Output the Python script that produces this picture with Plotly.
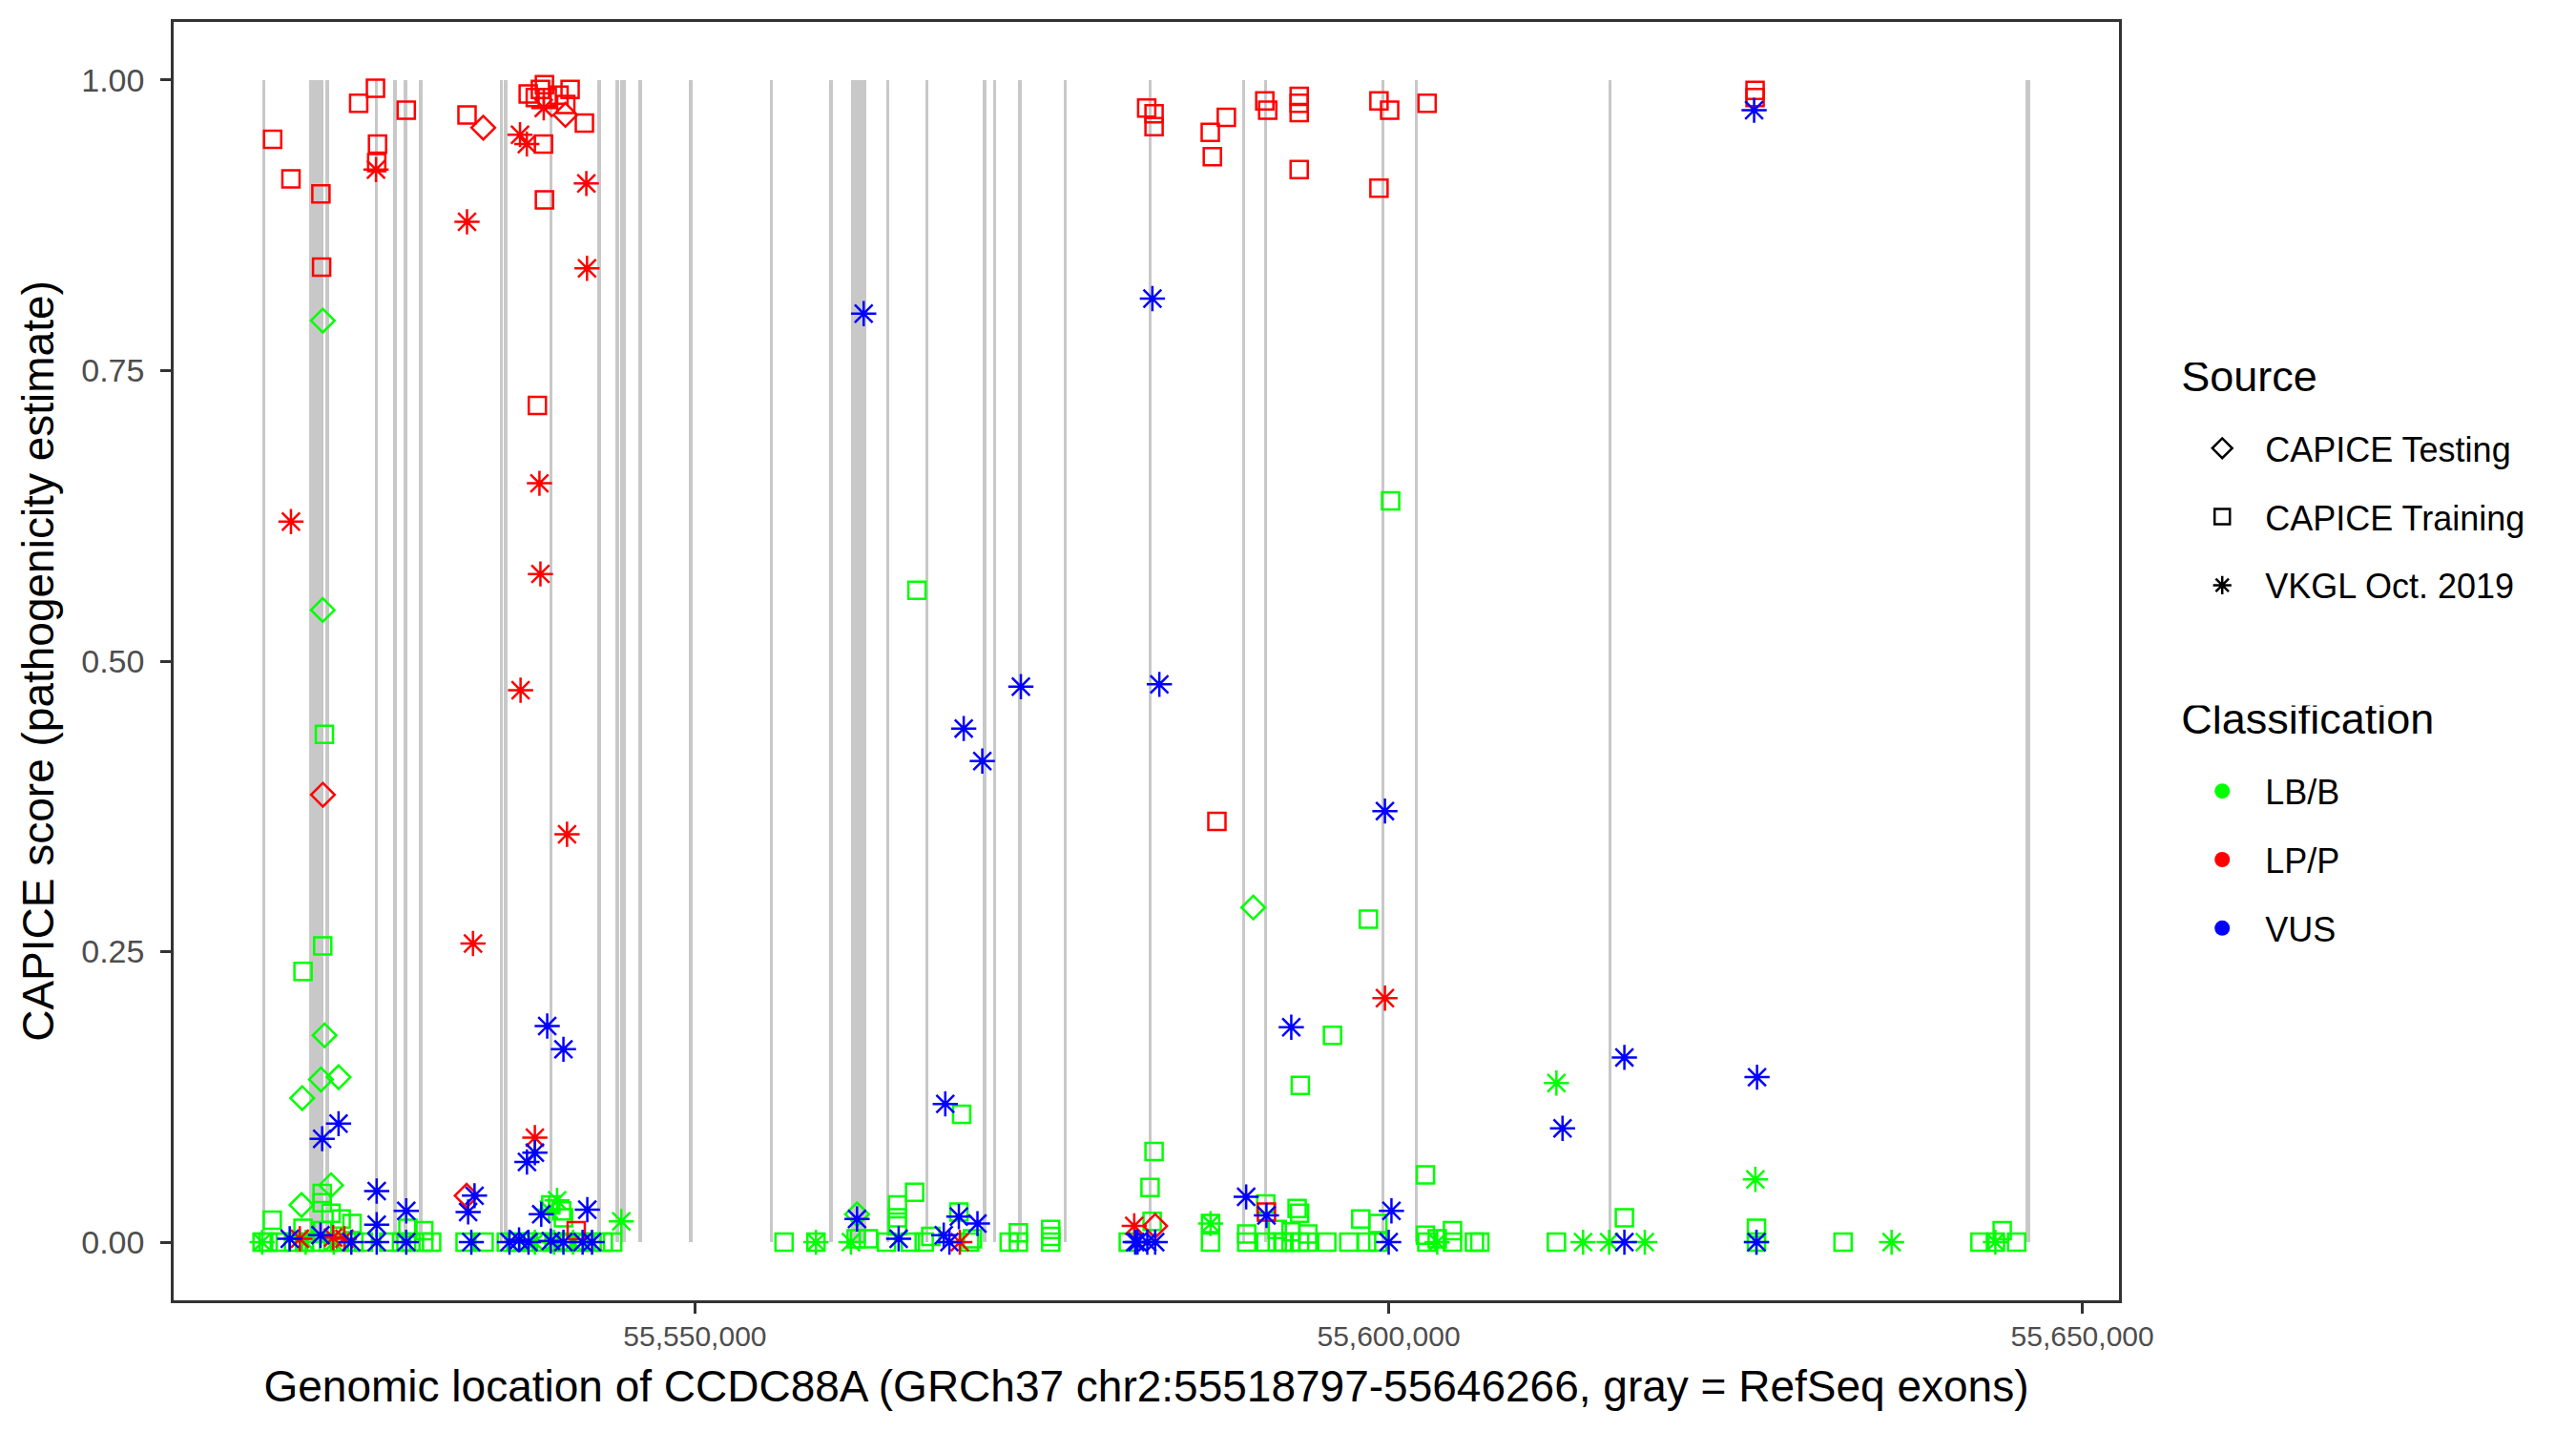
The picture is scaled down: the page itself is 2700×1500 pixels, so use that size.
import plotly.graph_objects as go

# RefSeq exons of CCDC88A (GRCh37, chr2)
exon_start = [55518797, 55522190, 55523380, 55526900, 55528255, 55529010, 55530115, 55535935,
              55536235, 55539485, 55542985, 55544275, 55544640, 55545935, 55549590, 55555380,
              55559685, 55561230, 55563785, 55566605, 55570765, 55571485, 55573315, 55576585,
              55582695, 55589415, 55591005, 55599470, 55601860, 55615830, 55645880]
exon_end = [55519010, 55523200, 55523600, 55527125, 55528485, 55529240, 55530345, 55536165,
            55536465, 55539715, 55543215, 55544505, 55544990, 55546165, 55549820, 55555610,
            55559915, 55562380, 55564015, 55566835, 55570995, 55571715, 55573545, 55576815,
            55582925, 55589645, 55591235, 55599700, 55602090, 55616060, 55646266]

# CAPICE Testing
testing_lbb_pos = [55523170, 55523170, 55523300, 55521690, 55523040, 55524310, 55523770,
                   55521640, 55561680, 55590240]
testing_lbb_score = [0.793, 0.544, 0.178, 0.124, 0.140, 0.142, 0.049, 0.032, 0.024, 0.288]
testing_lpp_pos = [55534740, 55540660, 55523180, 55533540, 55583170]
testing_lpp_score = [0.959, 0.970, 0.385, 0.040, 0.014]

# CAPICE Training
training_lbb_pos = [55518800, 55519230, 55520140, 55521070, 55521860, 55522670, 55523580,
                    55524380, 55525410, 55526100, 55527930, 55528850, 55529530, 55530450,
                    55531020, 55533430, 55534800, 55536400, 55537090, 55538000, 55538920,
                    55539840, 55540750, 55541670, 55542580, 55543390, 55544070, 55519530,
                    55523130, 55523130, 55523770, 55524500, 55525280, 55521750, 55523170,
                    55530450, 55529310, 55523290, 55521750, 55523170, 55539610, 55540390,
                    55540520, 55556420, 55558720, 55561620, 55562500, 55564600, 55565830,
                    55564600, 55564600, 55563800, 55565520, 55566520, 55567000, 55566000,
                    55569220, 55569020, 55570000, 55569800, 55572650, 55573310, 55573310,
                    55575640, 55575640, 55575640, 55581230, 55582950, 55583090, 55582800,
                    55587160, 55587160, 55593630, 55591140, 55593400, 55593580, 55589770,
                    55591140, 55591970, 55592450, 55592960, 55593580, 55594170, 55595540,
                    55589770, 55591970, 55592960, 55594170, 55597990, 55599220, 55597130,
                    55598410, 55599220, 55602650, 55602650, 55602750, 55603500, 55604600,
                    55604600, 55606180, 55606570, 55612090, 55616990, 55626510, 55626510,
                    55632750, 55642620, 55643730, 55644220, 55645260, 55600140, 55598540,
                    55595950]
training_lbb_score = [0, 0, 0, 0, 0, 0, 0,
                      0, 0, 0, 0, 0, 0, 0,
                      0, 0, 0, 0, 0, 0, 0,
                      0, 0, 0, 0, 0, 0, 0.019,
                      0.042, 0.034, 0.025, 0.020, 0.016, 0.012, 0.010,
                      0.010, 0.012, 0.437, 0.233, 0.255, 0.032, 0.027,
                      0.021, 0, 0, 0.003, 0.003, 0.032, 0.043,
                      0.021, 0.014, 0, 0, 0, 0.005, 0.561,
                      0.110, 0.026, 0.003, 0, 0, 0.008, 0,
                      0.011, 0.005, 0, 0, 0.018, 0.078, 0.047,
                      0.016, 0, 0.135, 0.033, 0.029, 0.025, 0,
                      0, 0, 0, 0, 0, 0, 0,
                      0.007, 0.011, 0.009, 0.007, 0.020, 0.016, 0,
                      0, 0, 0.058, 0.006, 0, 0.003, 0.010,
                      0, 0, 0, 0, 0.021, 0.012, 0,
                      0, 0, 0, 0.010, 0, 0.638, 0.278,
                      0.178]
training_lpp_pos = [55519560, 55520880, 55523040, 55523090, 55525760, 55526970, 55527120,
                    55527060, 55529190, 55533570, 55539080, 55539150, 55538640, 55542030,
                    55537980, 55538490, 55538860, 55539150, 55539350, 55540200, 55541000,
                    55540690, 55541440, 55591190, 55582560, 55583090, 55583090, 55588300,
                    55587140, 55587290, 55591070, 55591280, 55593550, 55593550, 55593550,
                    55593550, 55599300, 55600070, 55602770, 55599300, 55626410, 55626410,
                    55587620]
training_lpp_score = [0.949, 0.915, 0.902, 0.839, 0.980, 0.993, 0.945,
                      0.929, 0.974, 0.970, 0.945, 0.897, 0.720, 0.963,
                      0.988, 0.985, 0.992, 0.996, 0.985, 0.987, 0.992,
                      0.979, 0.010, 0.026, 0.976, 0.971, 0.960, 0.968,
                      0.955, 0.934, 0.982, 0.974, 0.986, 0.980, 0.972,
                      0.923, 0.982, 0.974, 0.980, 0.907, 0.991, 0.985,
                      0.362]

# VKGL Oct. 2019
vkgl_lbb_pos = [55518800, 55521940, 55523960, 55540060, 55539470, 55544690, 55561240,
                55558720, 55587160, 55612090, 55614010, 55615890, 55618460, 55626430,
                55626510, 55636250, 55643730, 55538460, 55539840, 55541210, 55603500]
vkgl_lbb_score = [0, 0, 0, 0.036, 0.028, 0.018, 0,
                  0, 0.016, 0.137, 0, 0, 0, 0.054,
                  0, 0, 0, 0, 0, 0, 0]
vkgl_lpp_pos = [55527010, 55537390, 55537880, 55539100, 55533570, 55542170, 55542220,
                55520880, 55538790, 55538860, 55537430, 55534000, 55540780, 55538460,
                55521520, 55523920, 55524730, 55569090, 55581660, 55599730]
vkgl_lpp_score = [0.923, 0.953, 0.945, 0.976, 0.878, 0.911, 0.838,
                  0.620, 0.653, 0.575, 0.475, 0.257, 0.351, 0.090,
                  0.003, 0.004, 0.003, 0, 0.014, 0.210]
vkgl_vus_pos = [55523130, 55524310, 55527060, 55527060, 55529190, 55534110, 55533650,
                55537890, 55538460, 55540520, 55539350, 55542240, 55538920, 55520790,
                55523010, 55525230, 55527060, 55529190, 55533880, 55536630, 55537320,
                55538000, 55539610, 55540520, 55541900, 55542580, 55562160, 55569370,
                55570710, 55573490, 55561680, 55564680, 55568040, 55569020, 55570360,
                55567930, 55568340, 55581730, 55581900, 55582600, 55583170, 55582970,
                55583470, 55589730, 55591190, 55592980, 55599730, 55600200, 55600000,
                55612530, 55616990, 55616990, 55626340, 55626550, 55626510]
vkgl_vus_score = [0.089, 0.102, 0.044, 0.015, 0.027, 0.040, 0.026,
                  0.069, 0.077, 0.166, 0.186, 0.028, 0.024, 0.003,
                  0.006, 0, 0, 0, 0, 0, 0.002,
                  0, 0.001, 0, 0, 0, 0.799, 0.442,
                  0.414, 0.478, 0.020, 0.003, 0.119, 0.022, 0.016,
                  0.006, 0, 0, 0, 0, 0, 0.812,
                  0.480, 0.039, 0.023, 0.185, 0.371, 0.027, 0,
                  0.098, 0.159, 0, 0.974, 0.142, 0]

x_tick_values = [55550000, 55600000, 55650000]
y_tick_values = [0, 0.25, 0.5, 0.75, 1.0]

source_names = ['CAPICE Testing', 'CAPICE Training', 'VKGL Oct. 2019']
class_names = ['LB/B', 'LP/P', 'VUS']

GREEN = '#00FF00'
RED = '#FF0000'
BLUE = '#0000FF'
EXON_GRAY = '#C8C8C8'
AXIS_COL = '#333333'
FONT = 'Liberation Sans, Arial, Helvetica, sans-serif'

SYMBOLS = {'CAPICE Testing': ('diamond-open', 19),
           'CAPICE Training': ('square-open', 18),
           'VKGL Oct. 2019': ('asterisk-open', 22)}

fig = go.Figure()

# exons as gray bars spanning the score range 0..1
fig.add_trace(go.Bar(x=[(s + e) / 2 for s, e in zip(exon_start, exon_end)],
                     y=[1] * len(exon_start),
                     width=[e - s for s, e in zip(exon_start, exon_end)],
                     base=0, marker=dict(color=EXON_GRAY, line=dict(width=0)),
                     showlegend=False, hoverinfo='skip'))


def add_points(pos, score, source, color):
    symbol, size = SYMBOLS[source]
    fig.add_trace(go.Scatter(x=pos, y=score, mode='markers', showlegend=False,
                             marker=dict(symbol=symbol, size=size, color=color,
                                         line=dict(color=color, width=2.5))))


add_points(training_lbb_pos, training_lbb_score, 'CAPICE Training', GREEN)
add_points(testing_lbb_pos, testing_lbb_score, 'CAPICE Testing', GREEN)
add_points(vkgl_lbb_pos, vkgl_lbb_score, 'VKGL Oct. 2019', GREEN)
add_points(training_lpp_pos, training_lpp_score, 'CAPICE Training', RED)
add_points(testing_lpp_pos, testing_lpp_score, 'CAPICE Testing', RED)
add_points(vkgl_lpp_pos, vkgl_lpp_score, 'VKGL Oct. 2019', RED)
add_points(vkgl_vus_pos, vkgl_vus_score, 'VKGL Oct. 2019', BLUE)

# legend keys
for name in source_names:
    symbol, size = SYMBOLS[name]
    fig.add_trace(go.Scatter(x=[None], y=[None], mode='markers', name=name,
                             legend='legend', legendgroup=name,
                             marker=dict(symbol=symbol, size=16, color='black',
                                         line=dict(color='black', width=2.5))))
for name, color in zip(class_names, [GREEN, RED, BLUE]):
    fig.add_trace(go.Scatter(x=[None], y=[None], mode='markers', name=name,
                             legend='legend2', legendgroup=name,
                             marker=dict(symbol='circle', size=16, color=color)))

legend_style = dict(font=dict(size=36, color='black', family=FONT), xanchor='left',
                    yanchor='top', itemwidth=80, traceorder='grouped', tracegroupgap=22,
                    bgcolor='rgba(0,0,0,0)')


def legend_title(text):
    # big visible title with a small blank line below it for extra gap
    return dict(text="<span style='font-size:45px'>" + text + "</span><br> ",
                font=dict(size=23, family=FONT, color='black'))


fig.update_layout(
    width=2684, height=1484, autosize=False,
    margin=dict(l=174, r=471, t=13, b=129),
    plot_bgcolor='white', paper_bgcolor='white',
    font=dict(family=FONT, color='black'),
    bargap=0,
    legend=dict(title=legend_title('Source'), x=1.031, y=0.7335, **legend_style),
    legend2=dict(title=legend_title('Classification'), x=1.031, y=0.4653, **legend_style),
)

axis_common = dict(showgrid=False, zeroline=False, showline=True, mirror=True,
                   linecolor=AXIS_COL, linewidth=2.5, ticks='outside', ticklen=11,
                   tickwidth=2.5, tickcolor=AXIS_COL)

fig.update_xaxes(range=[55512424, 55652639], tickvals=x_tick_values, tickformat=',d',
                 ticklabelstandoff=-2,
                 tickfont=dict(size=30, color='#4D4D4D', family=FONT),
                 title=dict(text='Genomic location of CCDC88A (GRCh37 chr2:55518797-55646266, gray = RefSeq exons)',
                            font=dict(size=46, color='black', family=FONT), standoff=22),
                 **axis_common)
fig.update_yaxes(range=[-0.05, 1.05], tickvals=y_tick_values, tickformat='.2f',
                 ticklabelstandoff=10,
                 tickfont=dict(size=34, color='#4D4D4D', family=FONT),
                 title=dict(text='CAPICE score (pathogenicity estimate)',
                            font=dict(size=46, color='black', family=FONT), standoff=15),
                 **axis_common)

fig.write_html("out.html")
